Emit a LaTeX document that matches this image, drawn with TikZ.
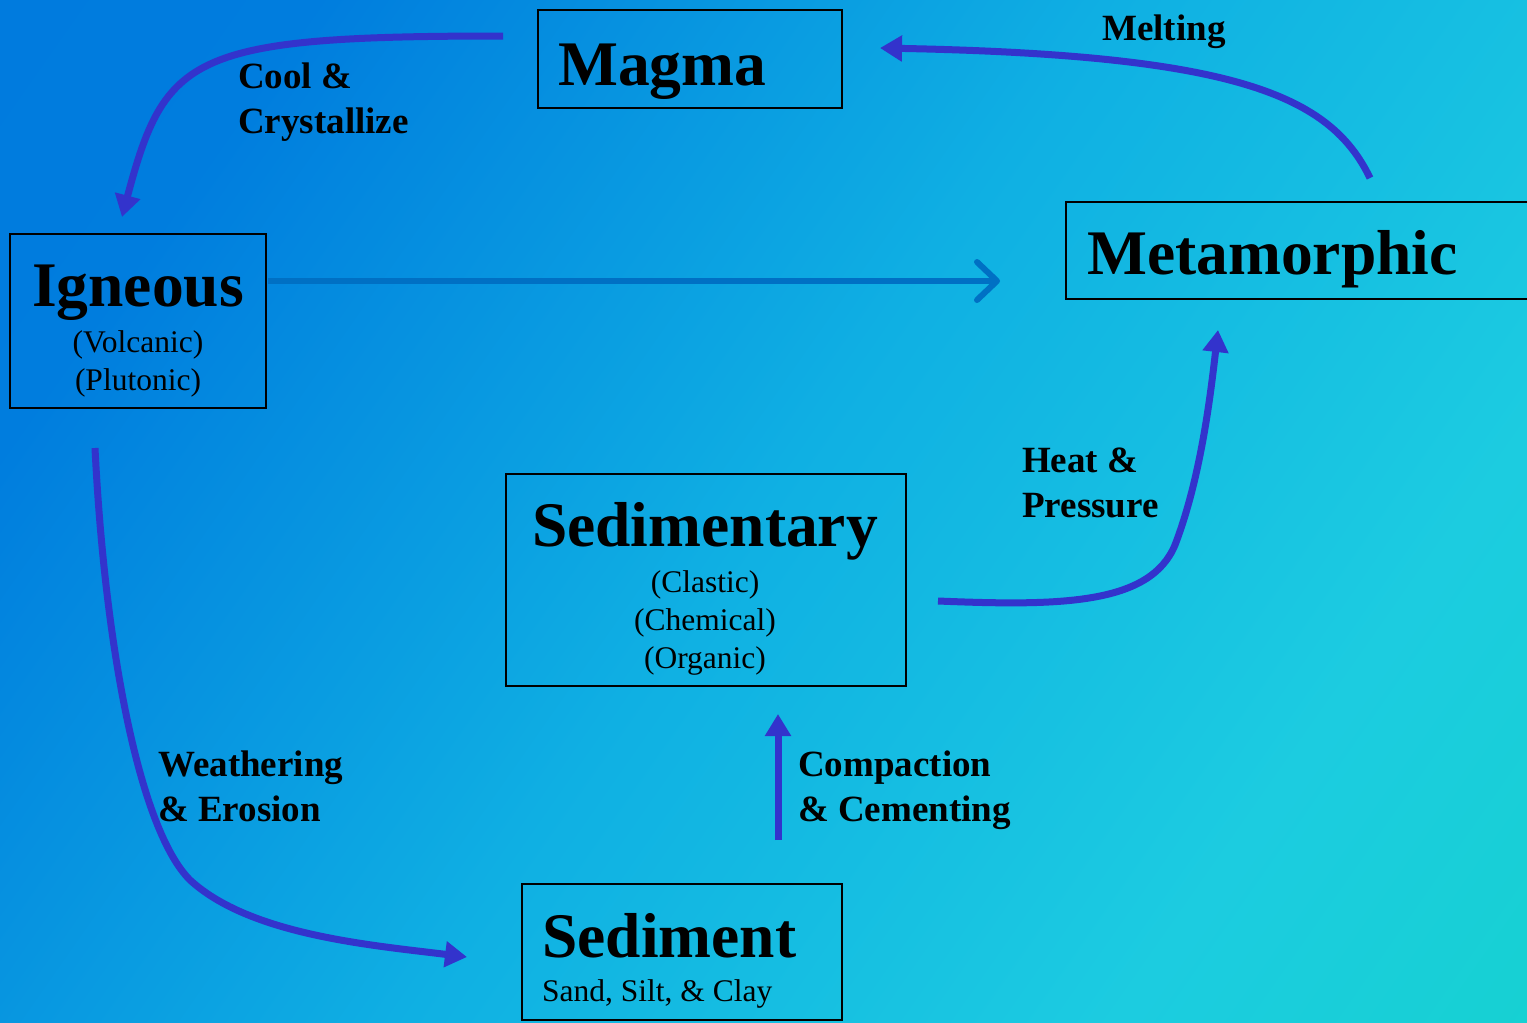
\documentclass[tikz,border=0pt]{standalone}
\usepackage{fontspec}
\setmainfont{Liberation Serif}
\usetikzlibrary{arrows.meta}
\definecolor{arrowblue}{RGB}{51,51,204}
\definecolor{flowblue}{RGB}{0,112,196}
\pgfdeclarehorizontalshading{bgshade}{100bp}{rgb(0bp)=(0,0.47,0.87); rgb(25bp)=(0,0.49,0.87); rgb(50bp)=(0.06,0.69,0.89); rgb(72bp)=(0.11,0.80,0.88); rgb(100bp)=(0.06,0.84,0.76)}
\begin{document}
\begin{tikzpicture}[x=1pt,y=-1pt,
  box/.style={draw=black, line width=2pt, inner sep=0pt},
  title/.style={font=\fontsize{63.5}{70}\selectfont\bfseries, inner sep=0pt},
  sub/.style={font=\fontsize{31.5}{36}\selectfont, inner sep=0pt},
  lab/.style={font=\fontsize{37}{45}\selectfont\bfseries, inner sep=0pt, anchor=base west},
  cyc/.style={draw=arrowblue, line width=7pt, -{Triangle[length=22pt,width=25pt]}},
  flow/.style={draw=flowblue, line width=6pt, -{Straight Barb[length=20pt,width=38pt,round]}}
]
\useasboundingbox (0,0) rectangle (1527,1023);
\clip (0,0) rectangle (1527,1023);
\shade[shading=bgshade, shading angle=-35] (0,0) rectangle (1527,1023);

% boxes
\node[box, minimum width=304pt, minimum height=98pt] (magma) at (690,59) {};
\node[box, minimum width=256pt, minimum height=174pt] (ign) at (138,321) {};
\node[box, minimum width=474pt, minimum height=97pt] (meta) at (1303,250.5) {};
\node[box, minimum width=400pt, minimum height=212pt] (sedy) at (706,580) {};
\node[box, minimum width=320pt, minimum height=136pt] (sed) at (682,952) {};

% box texts
\node[title, anchor=base west] (magmaT) at (558,85) {Magma};
\node[title, anchor=base] (ignT) at (138,306) {Igneous};
\node[sub, anchor=base] (volc) at (138,352) {(Volcanic)};
\node[sub, anchor=base] (plut) at (138,390) {(Plutonic)};
\node[title, anchor=base west] (metaT) at (1087,274) {Metamorphic};
\node[title, anchor=base] (sedyT) at (705,546) {Sedimentary};
\node[sub, anchor=base] (clas) at (705,592) {(Clastic)};
\node[sub, anchor=base] (chem) at (705,630) {(Chemical)};
\node[sub, anchor=base] (orga) at (705,668) {(Organic)};
\node[title, anchor=base west] (sedT) at (542,957) {Sediment};
\node[sub, anchor=base west] (sand) at (542,1001) {Sand, Silt, \& Clay};

% labels
\node[lab] (cool1) at (238,88) {Cool \&};
\node[lab] (cool2) at (238,133) {Crystallize};
\node[lab] (melt) at (1102,40) {Melting};
\node[lab] (heat1) at (1022,472) {Heat \&};
\node[lab] (heat2) at (1022,517) {Pressure};
\node[lab] (wea1) at (158,776) {Weathering};
\node[lab] (wea2) at (158,821) {\& Erosion};
\node[lab] (comp1) at (798,776) {Compaction};
\node[lab] (comp2) at (798,821) {\& Cementing};

% connector ends
\coordinate (coolS) at (503,36);
\coordinate (coolE) at (122,217);
\coordinate (meltS) at (1370,178);
\coordinate (meltE) at (880,48);
\coordinate (flowS) at (268,281);
\coordinate (flowE) at (1000,281);
\coordinate (heatS) at (938,601);
\coordinate (heatE) at (1218,330);
\coordinate (compS) at (778,840);
\coordinate (compE) at (778,714);
\coordinate (weaS) at (95,448);
\coordinate (weaE) at (467,957);

% connectors
\draw[cyc] (coolS) .. controls (190,36) and (165,55) .. (coolE);
\draw[cyc] (meltS) .. controls (1330,95) and (1235,55) .. (meltE);
\draw[flow] (flowS) -- (flowE);
\draw[cyc] (heatS) .. controls (1060,606) and (1150,605) .. (1175,545)
  .. controls (1200,480) and (1210,400) .. (heatE);
\draw[cyc] (compS) -- (compE);
\draw[cyc] (weaS) .. controls (105,650) and (140,830) .. (190,880)
  .. controls (250,935) and (370,945) .. (weaE);
\end{tikzpicture}
\end{document}
